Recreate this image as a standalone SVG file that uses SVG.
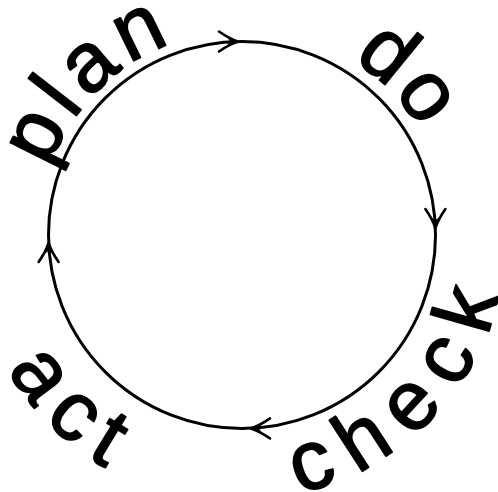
<svg xmlns="http://www.w3.org/2000/svg" xmlns:xlink="http://www.w3.org/1999/xlink" width="498" height="492" viewBox="0 0 498 492">
<style>
.lbl{font-family:"Liberation Sans",Arial,sans-serif;font-weight:normal;font-size:84px;fill:#000;stroke:#000;stroke-width:1.8;stroke-linejoin:round}
.ring{fill:none;stroke:#000;stroke-width:3}
.ah{fill:none;stroke:#000;stroke-width:2.6;stroke-linecap:round}
</style>
<defs>
<path id="pPlan" d="M 38 235 A 204 204 0 0 1 446 235"/>
<path id="pDo" d="M 35 235 A 207 207 0 0 1 449 235"/>
<path id="pAct" d="M -28 235 A 270 270 0 0 0 512 235"/>
<path id="pCheck" d="M -22 235 A 264 264 0 0 0 506 235"/>
<g id="arrow">
<path class="ah" d="M0,0 Q-9,-3 -19,-10 M0,0 Q-9,3 -19,10"/>
<path d="M1,0 L-11,-4.5 L-8,0 L-11,4.5 Z" fill="#000"/>
</g>
</defs>
<rect width="498" height="492" fill="#fff"/>
<g id="connectors">
<circle class="ring" cx="242" cy="235" r="193.5"/>
<use xlink:href="#arrow" transform="translate(238,41.5)"/>
<use xlink:href="#arrow" transform="translate(435.4,228) rotate(90)"/>
<use xlink:href="#arrow" transform="translate(251,428.4) rotate(180)"/>
<use xlink:href="#arrow" transform="translate(48.6,243) rotate(-90)"/>
</g>
<g id="plan"><text class="lbl" letter-spacing="7"><textPath xlink:href="#pPlan" startOffset="68">plan</textPath></text></g>
<g id="do"><text class="lbl" letter-spacing="5"><textPath xlink:href="#pDo" startOffset="441">do</textPath></text></g>
<g id="check"><text class="lbl" letter-spacing="19"><textPath xlink:href="#pCheck" startOffset="472">check</textPath></text></g>
<g id="act"><text class="lbl" letter-spacing="14"><textPath xlink:href="#pAct" startOffset="141">act</textPath></text></g>
</svg>
